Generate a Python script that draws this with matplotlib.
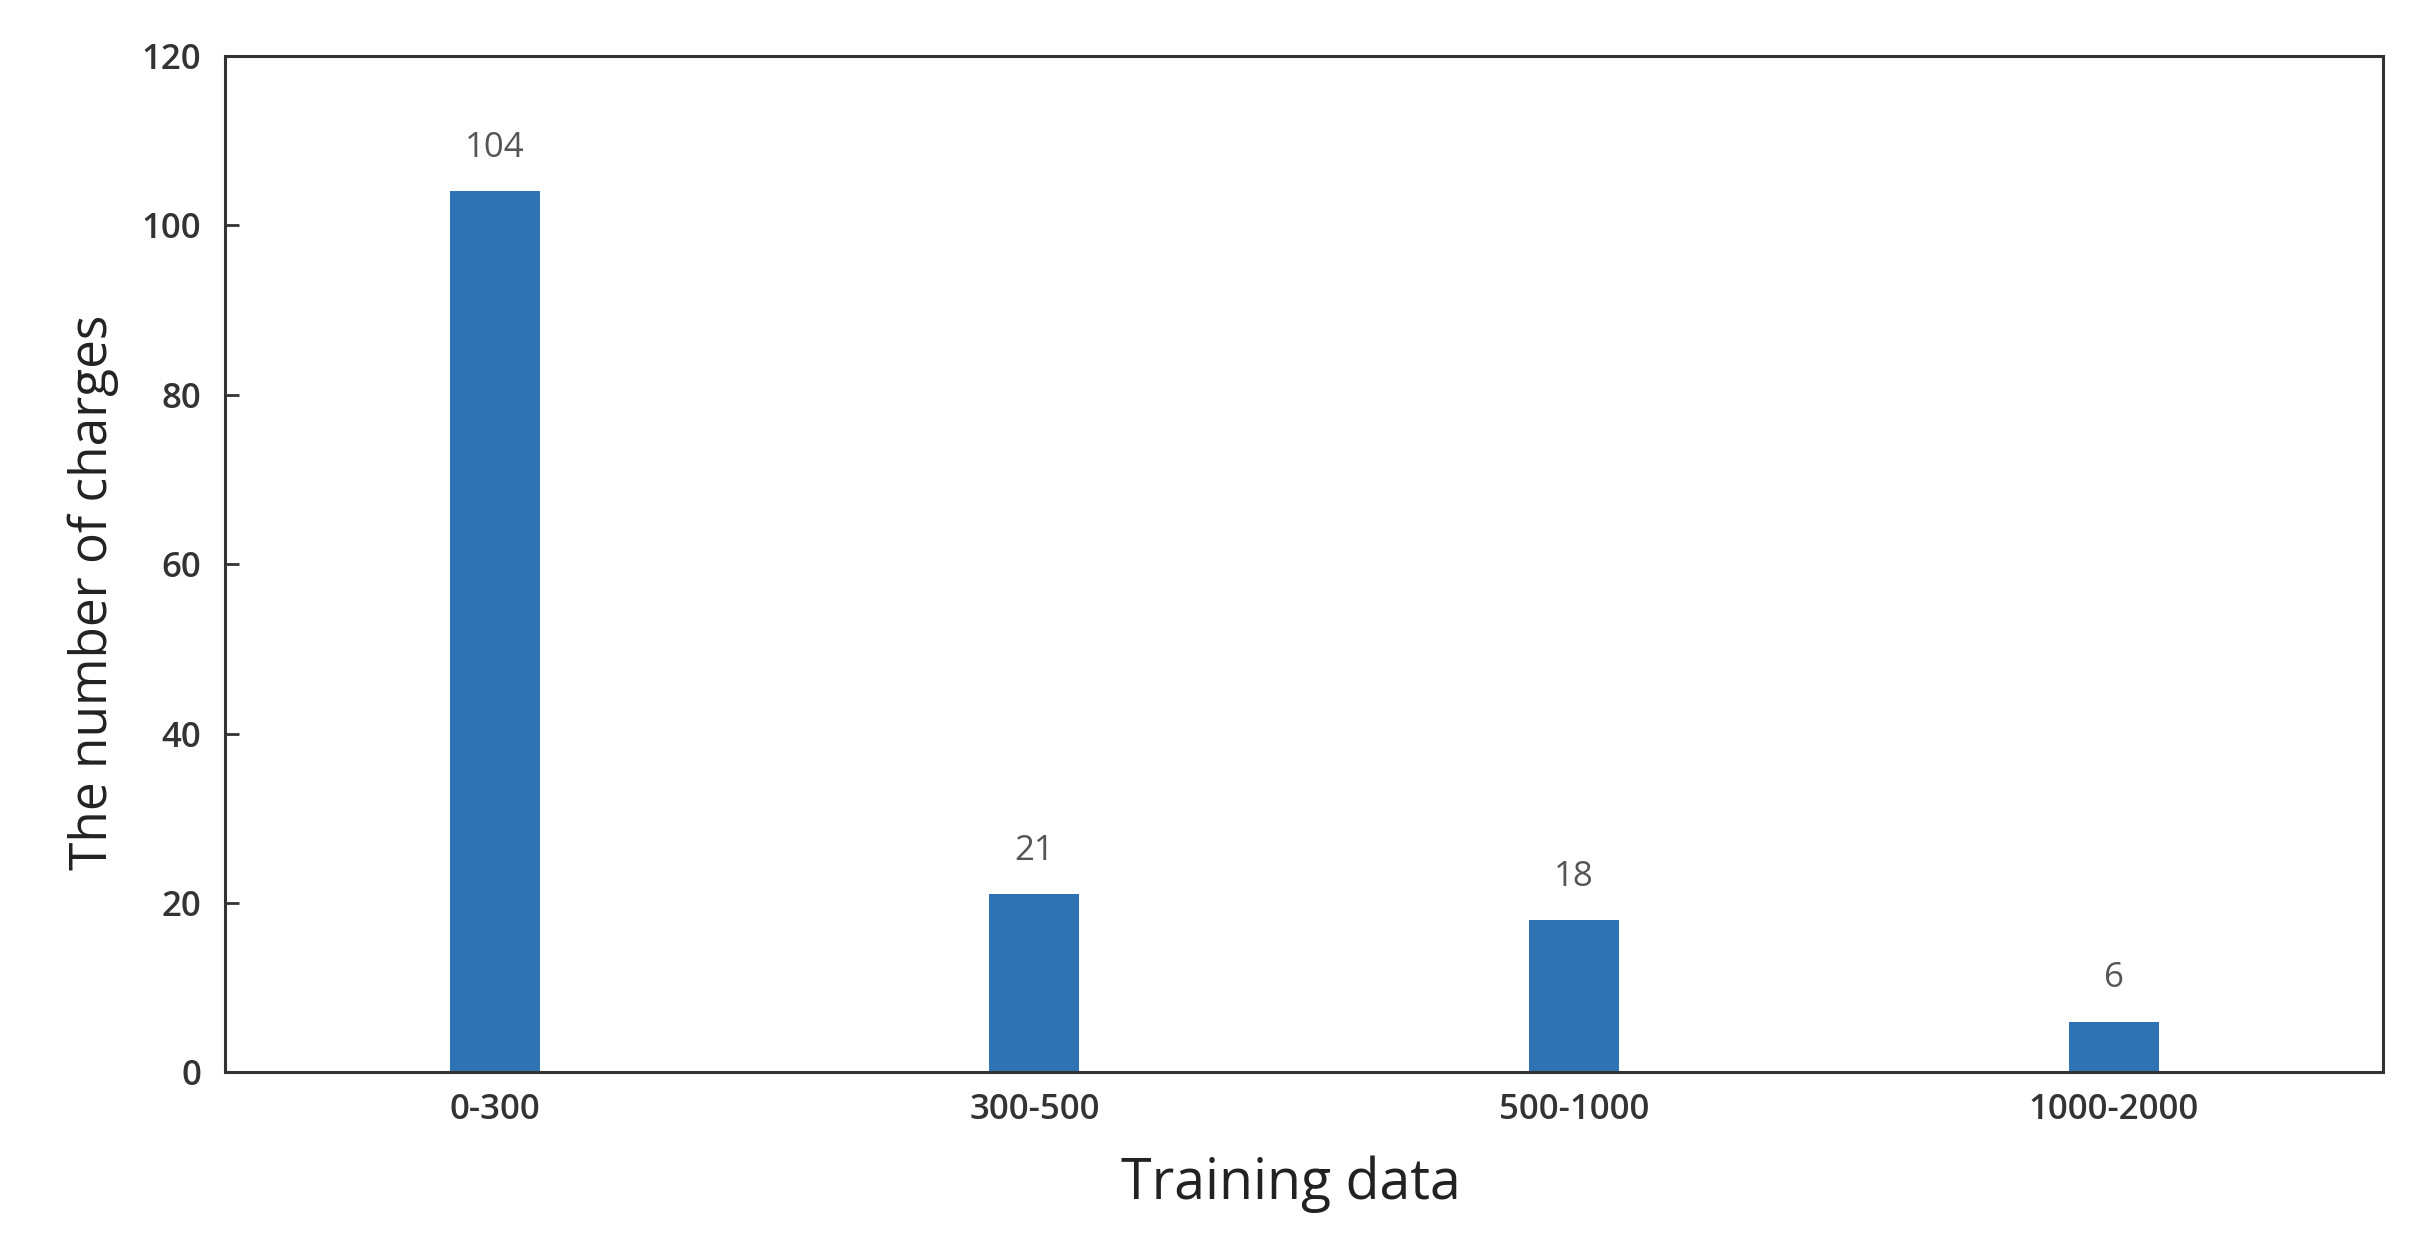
import numpy as np
import matplotlib
matplotlib.use("Agg")
import matplotlib.pyplot as plt

# data
categories = ["0-300", "300-500", "500-1000", "1000-2000"]
counts = [104, 21, 18, 6]
y_ticks = [0, 20, 40, 60, 80, 100, 120]

bar_colour = "#2e74b5"
text_colour = "#333333"

plt.rcParams['font.family'] = ['Open Sans', 'DejaVu Sans']

fig = plt.figure(figsize=(24.32, 12.44), dpi=100)
ax = fig.add_axes([0.0925, 0.138, 0.8875, 0.817])

x = np.arange(len(categories))
bars = ax.bar(x, counts, width=0.167, color=bar_colour)

# value labels above each bar
for xi, val in zip(x, counts):
    ax.annotate(str(val), (xi, val), xytext=(0, 31), textcoords='offset points',
                ha='center', va='center', fontsize=25, color='#555555')

ax.set_xlim(-0.5, len(categories) - 0.5)
ax.set_ylim(0, 120)
ax.set_xticks(x)
ax.set_xticklabels(categories)
ax.set_yticks(y_ticks)

ax.tick_params(axis='y', direction='in', length=10, width=2, labelsize=25,
               colors='#333333', labelcolor=text_colour, pad=17)
ax.tick_params(axis='x', length=0, labelsize=25, labelcolor=text_colour, pad=15)
for lbl in ax.get_xticklabels() + ax.get_yticklabels():
    lbl.set_fontweight('semibold')

for spine in ax.spines.values():
    spine.set_linewidth(2.2)
    spine.set_color('#333333')

ax.set_xlabel("Training data", fontsize=40, color='#222222')
ax.set_ylabel("The number of charges", fontsize=37, color='#222222')
ax.xaxis.set_label_coords(0.494, -0.082)
ax.yaxis.set_label_coords(-0.061, 0.472)
ax.yaxis.label.set_va('center')

fig.savefig("out.png", dpi=100, facecolor='white')
